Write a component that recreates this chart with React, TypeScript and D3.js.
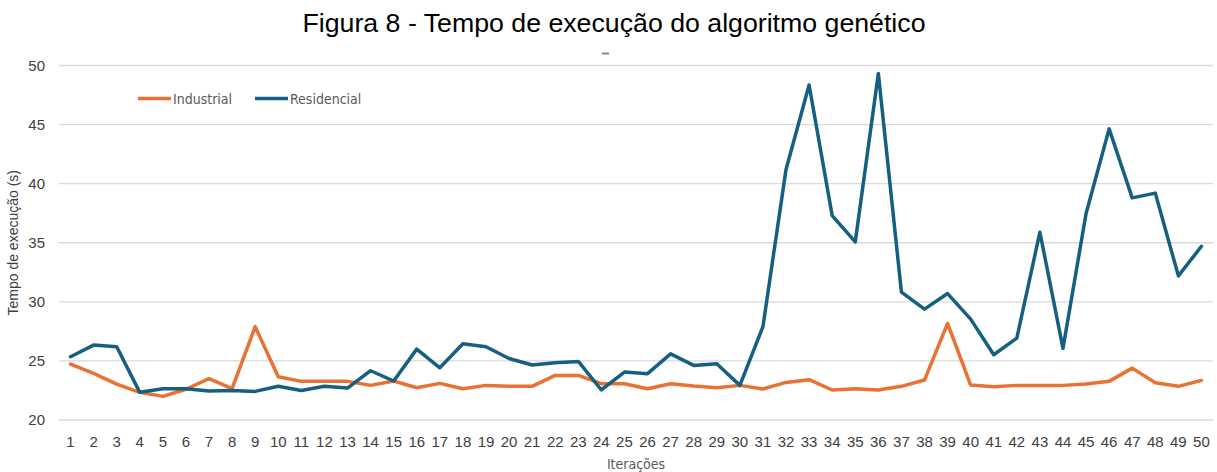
import React from "react";
import * as d3 from "d3";

const iterations = ["1","2","3","4","5","6","7","8","9","10","11","12","13","14","15","16","17","18","19","20","21","22","23","24","25","26","27","28","29","30","31","32","33","34","35","36","37","38","39","40","41","42","43","44","45","46","47","48","49","50"];

const industrial = [24.73,23.94,23.04,22.34,22.0,22.6,23.5,22.65,27.9,23.66,
  23.27,23.27,23.27,22.93,23.3,22.73,23.1,22.65,22.93,22.85,
  22.85,23.77,23.77,23.07,23.07,22.65,23.07,22.87,22.73,22.93,
  22.62,23.18,23.41,22.54,22.65,22.54,22.85,23.38,28.17,22.96,
  22.82,22.93,22.93,22.93,23.04,23.27,24.39,23.15,22.85,23.35];

const residencial = [25.35,26.34,26.2,22.34,22.65,22.65,22.45,22.5,22.42,22.85,
  22.5,22.85,22.7,24.17,23.3,26.0,24.42,26.45,26.2,25.2,
  24.65,24.85,24.96,22.54,24.06,23.92,25.6,24.62,24.76,22.93,
  27.9,41.2,48.35,37.3,35.07,49.33,30.82,29.38,30.7,28.54,
  25.52,26.93,35.89,26.06,37.47,44.64,38.8,39.2,32.2,34.7];

const yTicks = [20, 25, 30, 35, 40, 45, 50];

const seriesNames = ["Industrial", "Residencial"];
const seriesColors = ["#E97132", "#156082"];

const W = 1217;
const H = 472;

export default function App() {
  const x = d3.scaleBand<string>().domain(iterations).range([59, 1213]).padding(0);
  const y = d3.scaleLinear().domain([20, 50]).range([420, 65.5]);
  const cx = (d: string) => (x(d) as number) + x.bandwidth() / 2;

  const line = d3
    .line<number>()
    .x((_, i) => cx(iterations[i]))
    .y((v) => y(v));

  const series = [industrial, residencial];
  const tickFont = "'Liberation Sans', Arial, sans-serif";
  const narrowFont = "'Liberation Sans Narrow', 'DejaVu Sans Condensed', 'Arial Narrow', sans-serif";

  return (
    <svg
      width={W}
      height={H}
      style={{ position: "absolute", left: 0, top: 0, background: "#fff" }}
    >
      <rect x={0} y={0} width={W} height={H} fill="#fff" />
      <text
        x={614}
        y={32}
        textAnchor="middle"
        fontFamily={tickFont}
        fontSize={26}
        textLength={623}
        lengthAdjust="spacingAndGlyphs"
        fill="#000"
      >
        Figura 8 - Tempo de execução do algoritmo genético
      </text>
      <line x1={602} x2={609} y1={53.5} y2={53.5} stroke="#888" strokeWidth={2} />

      {yTicks.map((t) => (
        <g key={t}>
          <line x1={59} x2={1213} y1={y(t)} y2={y(t)} stroke="#d9d9d9" strokeWidth={1.3} />
          <text
            x={45}
            y={y(t)}
            dy="0.35em"
            textAnchor="end"
            fontFamily={tickFont}
            fontSize={15}
            fill="#404040"
          >
            {t}
          </text>
        </g>
      ))}

      {iterations.map((d) => (
        <text
          key={d}
          x={cx(d)}
          y={447}
          textAnchor="middle"
          fontFamily={tickFont}
          fontSize={15}
          fill="#404040"
        >
          {d}
        </text>
      ))}

      {series.map((s, i) => (
        <path
          key={seriesNames[i]}
          d={line(s) || ""}
          fill="none"
          stroke={seriesColors[i]}
          strokeWidth={3.5}
          strokeLinejoin="round"
          strokeLinecap="round"
        />
      ))}

      <text
        transform={`translate(18, ${(y(20) + y(50)) / 2}) rotate(-90)`}
        textAnchor="middle"
        fontFamily={tickFont}
        fontSize={14}
        fill="#404040"
      >
        Tempo de execução (s)
      </text>
      <text
        x={636}
        y={469}
        textAnchor="middle"
        fontFamily={narrowFont}
        fontSize={14}
        fill="#595959"
      >
        Iterações
      </text>

      {/* legend */}
      <line x1={138} x2={171} y1={98.5} y2={98.5} stroke={seriesColors[0]} strokeWidth={3.5} />
      <text x={173} y={103.5} fontFamily={narrowFont} fontSize={14} fill="#595959">
        {seriesNames[0]}
      </text>
      <line x1={255} x2={288} y1={98.5} y2={98.5} stroke={seriesColors[1]} strokeWidth={3.5} />
      <text x={290} y={103.5} fontFamily={narrowFont} fontSize={14} fill="#595959">
        {seriesNames[1]}
      </text>
    </svg>
  );
}
